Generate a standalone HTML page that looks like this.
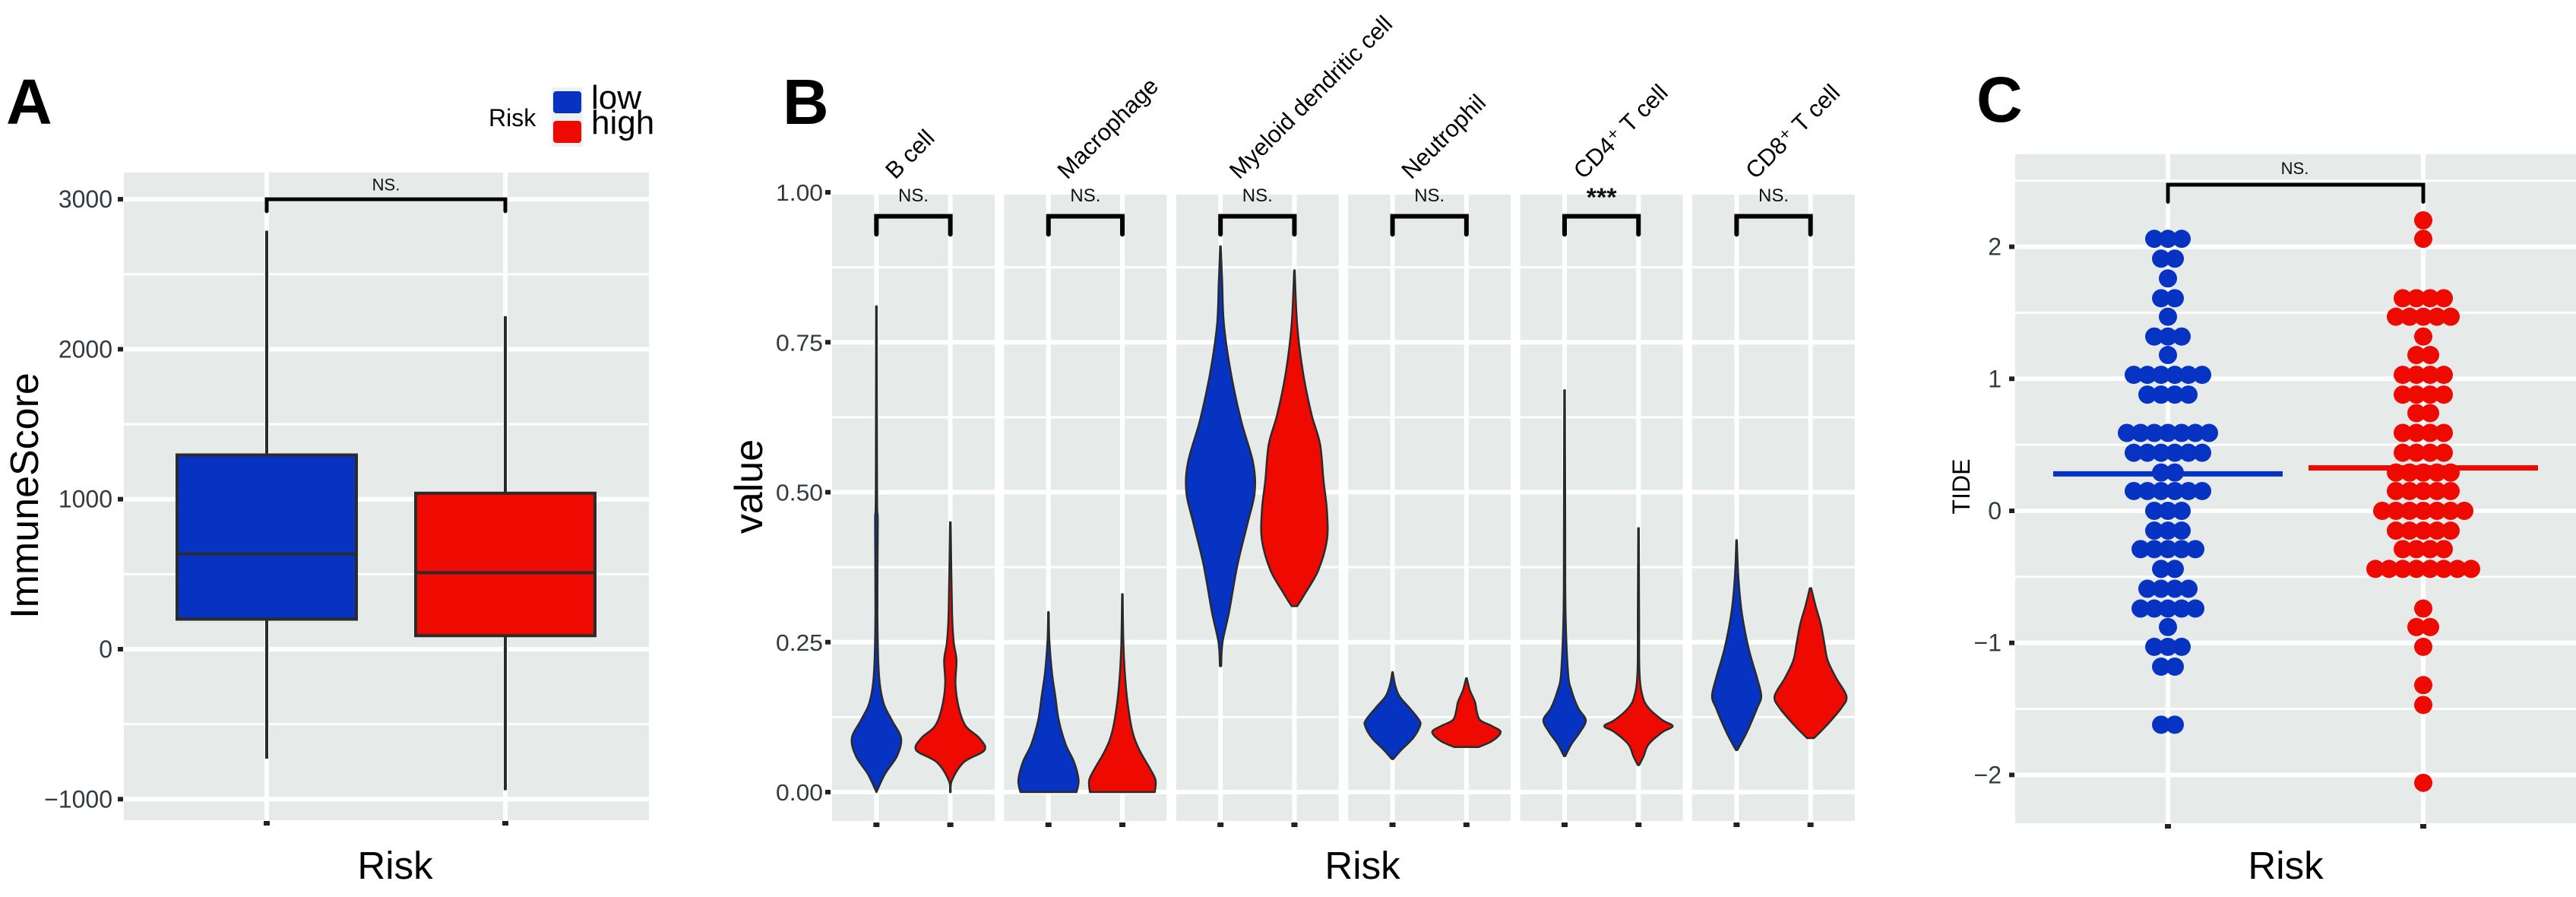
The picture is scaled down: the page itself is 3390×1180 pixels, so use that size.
<!DOCTYPE html>
<html><head><meta charset="utf-8"><style>
html,body{margin:0;padding:0;background:#fff}
svg{display:block}
text{font-family:"Liberation Sans",sans-serif}
</style></head>
<body>
<svg id="fig" width="3390" height="1180" viewBox="0 0 3390 1180" xmlns="http://www.w3.org/2000/svg">
<g id="pA"></g>
<g id="pB"></g>
<g id="pC"></g>
</svg>
<script>
// ---------- Data ----------
const groups = ["low","high"];
// Panel A box stats
const boxLow = [-730, 200, 635, 1295, 2790];   // min,q1,median,q3,max
const boxHigh = [-940, 90, 510, 1040, 2220];
const aTicks = [-1000, 0, 1000, 2000, 3000];
const aTickLabels = ["\u22121000","0","1000","2000","3000"];
// Panel B
const cells = ["B cell","Macrophage","Myeloid dendritic cell","Neutrophil","CD4\u207A T cell","CD8\u207A T cell"];
const bSig = ["NS.","NS.","NS.","NS.","***","NS."];
const bTicks = [0,0.25,0.5,0.75,1.0];
const bTickLabels = ["0.00","0.25","0.50","0.75","1.00"];
// violin profiles: value levels and relative half-widths
const vBLowV=[0,0.03,0.06,0.09,0.12,0.15,0.2,0.3,0.45,0.5,0.81];
const vBLowW=[0,0.25,0.6,0.72,0.45,0.2,0.07,0.03,0.04,0.02,0.01];
const vBHighV=[0,0.02,0.05,0.07,0.09,0.11,0.14,0.18,0.22,0.25,0.3,0.45];
const vBHighW=[0.01,0.05,0.4,1.0,0.85,0.45,0.25,0.15,0.18,0.1,0.05,0.01];
const vMLowV=[0,0.02,0.05,0.08,0.12,0.16,0.2,0.25,0.30];
const vMLowW=[0.82,0.88,0.75,0.5,0.3,0.2,0.1,0.03,0.01];
const vMHighV=[0,0.02,0.04,0.07,0.1,0.15,0.2,0.25,0.33];
const vMHighW=[0.95,0.97,0.8,0.5,0.3,0.15,0.07,0.03,0.01];
const vDLowV=[0.21,0.25,0.3,0.38,0.45,0.5,0.55,0.62,0.7,0.78,0.85,0.91];
const vDLowW=[0.02,0.06,0.25,0.5,0.8,1.0,0.95,0.6,0.3,0.1,0.05,0.01];
const vDHighV=[0.31,0.33,0.37,0.42,0.47,0.52,0.58,0.63,0.7,0.78,0.87];
const vDHighW=[0.08,0.3,0.7,0.95,0.95,0.85,0.75,0.5,0.25,0.08,0.01];
const vNLowV=[0.055,0.07,0.09,0.11,0.12,0.14,0.16,0.18,0.2];
const vNLowW=[0.02,0.25,0.6,0.8,0.78,0.5,0.2,0.07,0.01];
const vNHighV=[0.075,0.085,0.1,0.11,0.12,0.135,0.15,0.17,0.19];
const vNHighW=[0.35,0.75,1.0,0.75,0.4,0.3,0.25,0.1,0.01];
const v4LowV=[0.06,0.08,0.1,0.12,0.14,0.17,0.2,0.3,0.45,0.67];
const v4LowW=[0.02,0.2,0.45,0.62,0.4,0.2,0.1,0.03,0.02,0.01];
const v4HighV=[0.045,0.06,0.08,0.1,0.11,0.12,0.14,0.16,0.2,0.3,0.44];
const v4HighW=[0.02,0.15,0.3,0.7,1.0,0.7,0.3,0.12,0.03,0.02,0.01];
const v8LowV=[0.07,0.1,0.14,0.16,0.19,0.24,0.3,0.36,0.42];
const v8LowW=[0.02,0.3,0.6,0.72,0.6,0.35,0.15,0.05,0.01];
const v8HighV=[0.09,0.11,0.14,0.16,0.19,0.22,0.25,0.28,0.31,0.34];
const v8HighW=[0.1,0.45,0.9,1.05,0.75,0.5,0.4,0.3,0.15,0.02];
const violinVals=[[vBLowV,vBHighV],[vMLowV,vMHighV],[vDLowV,vDHighV],[vNLowV,vNHighV],[v4LowV,v4HighV],[v8LowV,v8HighV]];
const violinWid=[[vBLowW,vBHighW],[vMLowW,vMHighW],[vDLowW,vDHighW],[vNLowW,vNHighW],[v4LowW,v4HighW],[v8LowW,v8HighW]];
// Panel C dot rows: value and count
const cLowVals=[2.06,1.91,1.76,1.61,1.47,1.32,1.18,1.03,0.88,0.59,0.44,0.29,0.15,0.0,-0.15,-0.29,-0.44,-0.59,-0.74,-0.88,-1.03,-1.18,-1.62];
const cLowCounts=[3,2,1,2,1,3,1,6,4,7,6,2,6,3,3,5,2,4,5,1,3,2,2];
const cHighVals=[2.20,2.06,1.61,1.47,1.32,1.18,1.03,0.88,0.74,0.59,0.44,0.29,0.15,0.0,-0.15,-0.29,-0.44,-0.74,-0.88,-1.03,-1.32,-1.47,-2.06];
const cHighCounts=[1,1,4,5,1,2,4,4,2,4,4,5,5,7,5,4,8,1,2,1,1,1,1];
const cMeans=[0.28,0.325];
const cTicks=[-2,-1,0,1,2];
const cTickLabels=["\u22122","\u22121","0","1","2"];

// ---------- helpers ----------
const NS="http://www.w3.org/2000/svg";
const BLUE="#0733C3", RED="#EE0A00", BG="#E6EBEA", TXT="#333B40";
const COLS=[BLUE,RED];
function mk(parent,tag,attrs,txt){const e=document.createElementNS(NS,tag);for(const k in attrs)e.setAttribute(k,attrs[k]);if(txt!==undefined)e.textContent=txt;parent.appendChild(e);return e;}
function smoothPath(pts){ // Catmull-Rom through pts (open), returns path segment commands after first point
  let d='';
  for(let i=0;i<pts.length-1;i++){
    const p0=pts[Math.max(0,i-1)],p1=pts[i],p2=pts[i+1],p3=pts[Math.min(pts.length-1,i+2)];
    const c1=[p1[0]+(p2[0]-p0[0])/6,p1[1]+(p2[1]-p0[1])/6];
    const c2=[p2[0]-(p3[0]-p1[0])/6,p2[1]-(p3[1]-p1[1])/6];
    d+=` C${c1[0].toFixed(1)},${c1[1].toFixed(1)} ${c2[0].toFixed(1)},${c2[1].toFixed(1)} ${p2[0].toFixed(1)},${p2[1].toFixed(1)}`;
  }
  return d;
}

// ---------- Panel A ----------
(function(){
const g=document.getElementById('pA');
const L=163,R=854,T=227,B=1079;
const y=v=>854-v*0.1973;
const xs=[351,665];
let e=mk(g,'rect',{x:L,y:T,width:R-L,height:B-T,fill:BG});


for(let v=-500;v<=3000;v+=1000){e=mk(g,'line',{x1:L,x2:R,y1:y(v),y2:y(v),stroke:'#fff','stroke-width':3});
}
aTicks.forEach((v,i)=>{
e=mk(g,'line',{x1:L,x2:R,y1:y(v),y2:y(v),stroke:'#fff','stroke-width':6});

e=mk(g,'rect',{x:L-8,y:y(v)-3,width:7,height:6,fill:'#222'});

e=mk(g,'text',{x:148,y:y(v)+11,'text-anchor':'end','font-size':32,fill:TXT},aTickLabels[i]);

});
xs.forEach(x=>{e=mk(g,'line',{x1:x,x2:x,y1:T,y2:B,stroke:'#fff','stroke-width':6});

e=mk(g,'rect',{x:x-4,y:B+1,width:8,height:6,fill:'#222'});
});
[boxLow,boxHigh].forEach((b,i)=>{
const x=xs[i],hw=118;
e=mk(g,'line',{x1:x,x2:x,y1:y(b[0]),y2:y(b[4]),stroke:'#2b2b2b','stroke-width':4});

e=mk(g,'rect',{x:x-hw,y:y(b[3]),width:2*hw,height:y(b[1])-y(b[3]),fill:COLS[i],stroke:'#2b2b2b','stroke-width':4});

e=mk(g,'line',{x1:x-hw,x2:x+hw,y1:y(b[2]),y2:y(b[2]),stroke:'#2b2b2b','stroke-width':4});

});
e=mk(g,'path',{d:`M${xs[0]},${y(2920)} V${y(3000)} H${xs[1]} V${y(2920)}`,fill:'none',stroke:'#000','stroke-width':5,'stroke-linecap':'round'});

e=mk(g,'text',{x:508,y:y(3060),'text-anchor':'middle','font-size':22,fill:'#111'},'NS.');

e=mk(g,'text',{x:50,y:652,'text-anchor':'middle','font-size':52,fill:'#000',transform:'rotate(-90 50 652)'},'ImmuneScore');

e=mk(g,'text',{x:520,y:1156,'text-anchor':'middle','font-size':51,fill:'#000'},'Risk');

e=mk(g,'text',{x:8,y:163,'font-size':84,'font-weight':'bold',fill:'#000'},'A');

// legend
e=mk(g,'text',{x:643,y:166,'font-size':32,fill:'#000'},'Risk');

e=mk(g,'rect',{x:726,y:115,width:41,height:78,fill:'#EEF1F1'});

e=mk(g,'rect',{x:728,y:120,width:37,height:29,rx:4,fill:BLUE});

e=mk(g,'rect',{x:728,y:159,width:37,height:29,rx:4,fill:RED});

e=mk(g,'text',{x:778,y:143,'font-size':44,fill:'#000'},'low');

e=mk(g,'text',{x:778,y:176,'font-size':44,fill:'#000'},'high');

})();

// ---------- Panel B ----------
(function(){
const g=document.getElementById('pB');
const T=250,B=1080,x0=1095,step=226.4,W=214;
const y=v=>1042-v*789;
let e;
cells.forEach((c,i)=>{
const L=x0+i*step, R=L+W, cx=L+W/2;
const xs=[L+W*0.6/2.2, L+W*1.6/2.2];
e=mk(g,'rect',{x:L,y:T,width:W,height:B-T,fill:BG});

for(let v=-0.125;v<=1.0;v+=0.25){e=mk(g,'line',{x1:L,x2:R,y1:y(v),y2:y(v),stroke:'#fff','stroke-width':3});
}
bTicks.forEach(v=>{e=mk(g,'line',{x1:L,x2:R,y1:y(v),y2:y(v),stroke:'#fff','stroke-width':6});
});
xs.forEach(x=>{e=mk(g,'line',{x1:x,x2:x,y1:T,y2:B,stroke:'#fff','stroke-width':6});

e=mk(g,'rect',{x:x-4,y:B+2,width:8,height:6,fill:'#222'});
});
for(let k=0;k<2;k++){
const vs=violinVals[i][k], ws=violinWid[i][k], x=xs[k], S=45;
const right=vs.map((v,j)=>[x+ws[j]*S,y(v)]);
const left=vs.map((v,j)=>[x-ws[j]*S,y(v)]).reverse();
const d=`M${right[0][0].toFixed(1)},${right[0][1].toFixed(1)}`+smoothPath(right)+` L${left[0][0].toFixed(1)},${left[0][1].toFixed(1)}`+smoothPath(left)+' Z';
e=mk(g,'path',{d:d,fill:COLS[k],stroke:'#2b2b2b','stroke-width':2.5,'stroke-linejoin':'round'});

}
e=mk(g,'path',{d:`M${xs[0]},${y(0.93)} V${y(0.96)} H${xs[1]} V${y(0.93)}`,fill:'none',stroke:'#000','stroke-width':6,'stroke-linecap':'round'});

e=mk(g,'text',{x:(xs[0]+xs[1])/2,y:bSig[i]==='***'?y(0.985)+6:y(0.985),'text-anchor':'middle','font-size':bSig[i]==='***'?34:24,'font-weight':bSig[i]==='***'?'bold':'normal',fill:'#111'},bSig[i]);

const sx=cx-24, sy=237;
e=mk(g,'text',{x:sx,y:sy,'font-size':31,fill:'#000',transform:`rotate(-45 ${sx} ${sy})`},c);

});
bTicks.forEach((v,i)=>{
e=mk(g,'rect',{x:x0-9,y:y(v)-3,width:7,height:6,fill:'#222'});

e=mk(g,'text',{x:x0-12,y:y(v)+11,'text-anchor':'end','font-size':31,fill:TXT,textLength:62,lengthAdjust:'spacingAndGlyphs'},bTickLabels[i]);

});
e=mk(g,'text',{x:1003,y:640,'text-anchor':'middle','font-size':52,fill:'#000',transform:'rotate(-90 1003 640)'},'value');

e=mk(g,'text',{x:1793,y:1156,'text-anchor':'middle','font-size':51,fill:'#000'},'Risk');

e=mk(g,'text',{x:1030,y:163,'font-size':84,'font-weight':'bold',fill:'#000'},'B');

})();

// ---------- Panel C ----------
(function(){
const g=document.getElementById('pC');
const L=2652,R=3390,T=203,B=1083;
const y=v=>672-v*173.7;
const xs=[2853,3189];
let e=mk(g,'rect',{x:L,y:T,width:R-L,height:B-T,fill:BG});

for(let v=-1.5;v<=2.5;v+=1){e=mk(g,'line',{x1:L,x2:R,y1:y(v),y2:y(v),stroke:'#fff','stroke-width':3});
}
cTicks.forEach((v,i)=>{
e=mk(g,'line',{x1:L,x2:R,y1:y(v),y2:y(v),stroke:'#fff','stroke-width':6});

e=mk(g,'rect',{x:L-8,y:y(v)-3,width:7,height:6,fill:'#222'});

e=mk(g,'text',{x:L-18,y:y(v)+11,'text-anchor':'end','font-size':32,fill:TXT},cTickLabels[i]);

});
xs.forEach(x=>{e=mk(g,'line',{x1:x,x2:x,y1:T,y2:B,stroke:'#fff','stroke-width':6});

e=mk(g,'rect',{x:x-4,y:B+1,width:8,height:6,fill:'#222'});
});
[[cLowVals,cLowCounts],[cHighVals,cHighCounts]].forEach((d,k)=>{
d[0].forEach((v,j)=>{
const n=d[1][j];
for(let m=0;m<n;m++){
const cx=xs[k]+(m-(n-1)/2)*18;
e=mk(g,'circle',{cx:cx,cy:y(v),r:12,fill:COLS[k]});

}});
e=mk(g,'line',{x1:xs[k]-151,x2:xs[k]+151,y1:y(cMeans[k]),y2:y(cMeans[k]),stroke:COLS[k],'stroke-width':7});

});
e=mk(g,'path',{d:`M${xs[0]},${y(2.34)} V${y(2.47)} H${xs[1]} V${y(2.34)}`,fill:'none',stroke:'#000','stroke-width':5,'stroke-linecap':'round'});

e=mk(g,'text',{x:3020,y:y(2.55),'text-anchor':'middle','font-size':22,fill:'#111'},'NS.');

e=mk(g,'text',{x:2592,y:640,'text-anchor':'middle','font-size':32,fill:'#000',transform:'rotate(-90 2592 640)'},'TIDE');

e=mk(g,'text',{x:3008,y:1156,'text-anchor':'middle','font-size':51,fill:'#000'},'Risk');

e=mk(g,'text',{x:2601,y:160,'font-size':84,'font-weight':'bold',fill:'#000'},'C');

})();
</script>
</body></html>
